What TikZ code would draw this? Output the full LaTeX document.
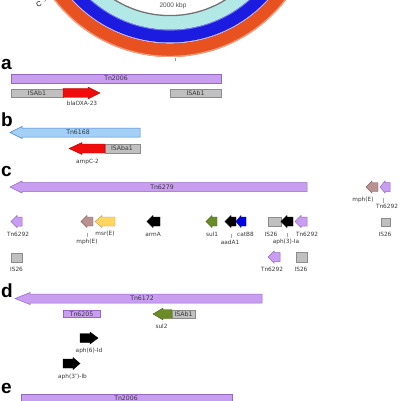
\documentclass[tikz,border=0pt]{standalone}
\usepackage{fontspec}
\newfontfamily\genefont{DejaVu Sans}
\newfontfamily\panelfont{Liberation Sans}
\definecolor{tnpurple}{RGB}{201,158,240}
\definecolor{tnedge}{RGB}{150,105,195}
\definecolor{isgrey}{RGB}{192,192,192}
\definecolor{isedge}{RGB}{140,140,140}
\definecolor{oxared}{RGB}{240,12,12}
\definecolor{tnblue}{RGB}{165,208,245}
\definecolor{tnblueedge}{RGB}{70,130,200}
\definecolor{mphbrown}{RGB}{185,145,145}
\definecolor{msryellow}{RGB}{255,215,95}
\definecolor{sulgreen}{RGB}{105,140,40}
\definecolor{catblue}{RGB}{0,0,230}
\definecolor{ringorange}{RGB}{232,82,32}
\definecolor{ringblue}{RGB}{28,28,225}
\definecolor{ringcyan}{RGB}{178,232,230}
\definecolor{labelgrey}{RGB}{55,55,55}

% right-pointing gene: style, x start, x tip, y centre, head length
\newcommand{\fwdgene}[5]{%
  \draw[#1] (#2,#4-4.5) -- (#3-#5,#4-4.5) -- (#3-#5,#4-6) -- (#3,#4)
    -- (#3-#5,#4+6) -- (#3-#5,#4+4.5) -- (#2,#4+4.5) -- cycle;}
% left-pointing gene: style, x tip, x end, y centre, head length
\newcommand{\revgene}[5]{%
  \draw[#1] (#3,#4-4.5) -- (#2+#5,#4-4.5) -- (#2+#5,#4-6) -- (#2,#4)
    -- (#2+#5,#4+6) -- (#2+#5,#4+4.5) -- (#3,#4+4.5) -- cycle;}

\begin{document}
\begin{tikzpicture}[x=1pt, y=-1pt, line join=miter,
  tn/.style={fill=tnpurple, draw=tnedge, line width=0.5pt},
  isel/.style={fill=isgrey, draw=isedge, line width=0.5pt},
  gene/.style={draw=#1!70!black, fill=#1, line width=0.4pt},
  barlbl/.style={font=\genefont\fontsize{6.2}{7}\selectfont, text=labelgrey, inner sep=0pt},
  lbl/.style={font=\genefont\fontsize{5.8}{7}\selectfont, text=labelgrey, inner sep=0pt},
  panel/.style={font=\panelfont\bfseries\fontsize{19}{20}\selectfont, anchor=base west, inner sep=0pt},
  lead/.style={draw=black!35, line width=0.4pt}]
\useasboundingbox (0,0) rectangle (401,401);
\clip (0,0) rectangle (401,401);

% genome rings
\fill[ringorange, even odd rule] (170,-89.5) circle (146.5) (170,-89.5) circle (132.8);
\draw[ringorange!55!white, line width=1.2pt] (170,-89.5) circle (145.9);
\draw[blue!25!white, line width=0.8pt] (170,-89.5) circle (132.4);
\fill[ringblue, even odd rule] (170,-89.5) circle (132) (170,-89.5) circle (119);
\draw[ringblue!60!white, line width=1pt] (170,-89.5) circle (119.6);
\fill[ringcyan, even odd rule] (170,-89.5) circle (119) (170,-89.5) circle (105.5);
\draw[black!55, line width=1.3pt] (170,-89.5) circle (105.1);
\node[font=\panelfont\fontsize{6.5}{7}\selectfont, text=black!70] (kbp) at (173,6) {2000 kbp};
\coordinate (tick) at (175,58);
\draw[black!40, line width=0.4pt] (tick) -- ++(0,3);
\node[font=\panelfont\fontsize{7}{8}\selectfont, rotate=25] (cmark) at (39,4) {C};
\draw[black!60, line width=0.4pt] (cmark.east) -- ++(3,-3);

% a
\node[panel] (pa) at (1,70) {a};
\draw[tn] (11,74) rectangle (221,83);
\node[barlbl] (tna) at (116,78.5) {Tn2006};
\draw[isel] (11,89) rectangle (63,97);
\node[barlbl] (isa1) at (37,93) {ISAb1};
\fwdgene{gene=oxared}{63}{100}{93}{12}
\node[lbl] (oxa) at (82,103) {blaOXA-23};
\draw[isel] (170,89) rectangle (221,97);
\node[barlbl] (isa2) at (195.5,93) {ISAb1};

% b
\node[panel] (pb) at (1,126) {b};
\revgene{fill=tnblue, draw=tnblueedge, line width=0.5pt}{10}{140}{132.5}{12}
\node[barlbl] (tnb) at (78,132.5) {Tn6168};
\draw[isel] (105,144) rectangle (140,153);
\node[barlbl] (isb) at (122,148.5) {ISAba1};
\revgene{gene=oxared}{69}{105}{148.5}{13}
\node[lbl] (ampc) at (87.5,162) {ampC-2};

% c
\node[panel] (pc) at (1,176) {c};
\revgene{tn}{10}{307}{187}{12}
\node[barlbl] (tnc) at (162,187) {Tn6279};
\revgene{tn}{11}{22}{221.5}{6}
\node[lbl] (c1) at (18,234) {Tn6292};
\draw[isel] (11,253) rectangle (22,262);
\node[lbl] (c2) at (16.5,269) {IS26};
\revgene{gene=mphbrown}{81}{93}{221.5}{6}
\node[lbl] (c3) at (87,242) {mph(E)};
\draw[lead] (c3.north) ++(0,-1.5) -- ++(0,-4);
\revgene{gene=msryellow}{95}{115}{221.5}{7}
\node[lbl] (c4) at (105,234) {msr(E)};
\revgene{fill=black, draw=black}{147}{160}{221.5}{6}
\node[lbl] (c5) at (153,234) {armA};
\revgene{gene=sulgreen}{206}{217}{221.5}{6}
\node[lbl] (c6) at (212,234) {sul1};
\revgene{fill=black, draw=black}{225}{236}{221.5}{6}
\node[lbl] (c7) at (230,242) {aadA1};
\draw[lead] (c7.north) ++(1,-1.5) -- ++(0,-4);
\revgene{gene=catblue}{236}{246}{221.5}{5}
\node[lbl] (c8) at (245.5,234) {catB8};
\draw[isel] (268,217) rectangle (281,226);
\node[lbl] (c9) at (271,234) {IS26};
\revgene{fill=black, draw=black}{281}{293}{221.5}{6}
\node[lbl] (c10) at (286,242) {aph(3)-Ia};
\draw[lead] (c10.north) ++(1,-1.5) -- ++(0,-4);
\revgene{tn}{295}{307}{221.5}{6}
\node[lbl] (c11) at (307,234) {Tn6292};
\revgene{tn}{268}{280}{257}{6}
\node[lbl] (c12) at (272,269) {Tn6292};
\draw[isel] (296,252) rectangle (307,262);
\node[lbl] (c13) at (301,269) {IS26};
\revgene{gene=mphbrown}{366}{378}{187}{6}
\revgene{tn}{380}{390}{187}{5}
\node[lbl] (c14) at (363,200) {mph(E)};
\node[lbl] (c15) at (387,206) {Tn6292};
\draw[lead] (c15.north) ++(-4,-1) -- ++(0,-5);
\draw[isel] (381,218) rectangle (390,226);
\node[lbl] (c16) at (385,234) {IS26};

% d
\node[panel] (pd) at (1,297) {d};
\revgene{tn}{15}{262}{298.5}{15}
\node[barlbl] (tnd) at (142,298.5) {Tn6172};
\draw[tn] (63,310) rectangle (100,317.5);
\node[barlbl] (tn6205) at (81.5,313.8) {Tn6205};
\revgene{gene=sulgreen}{153}{172}{314}{10}
\draw[isel] (172,310) rectangle (195,318);
\node[barlbl] (isd) at (183.5,314) {ISAb1};
\node[lbl] (sul2) at (161.5,326) {sul2};
\fwdgene{fill=black, draw=black}{80}{98}{338}{8}
\node[lbl] (aph6) at (89,351) {aph(6)-Id};
\fwdgene{fill=black, draw=black}{63}{80}{363.5}{7}
\node[lbl] (aph3) at (72.5,377) {aph(3″)-Ib};

% e
\node[panel] (pe) at (1,393) {e};
\draw[tn] (21,394) rectangle (232,405);
\node[barlbl] (tne) at (126,397.8) {Tn2006};
\end{tikzpicture}
\end{document}
